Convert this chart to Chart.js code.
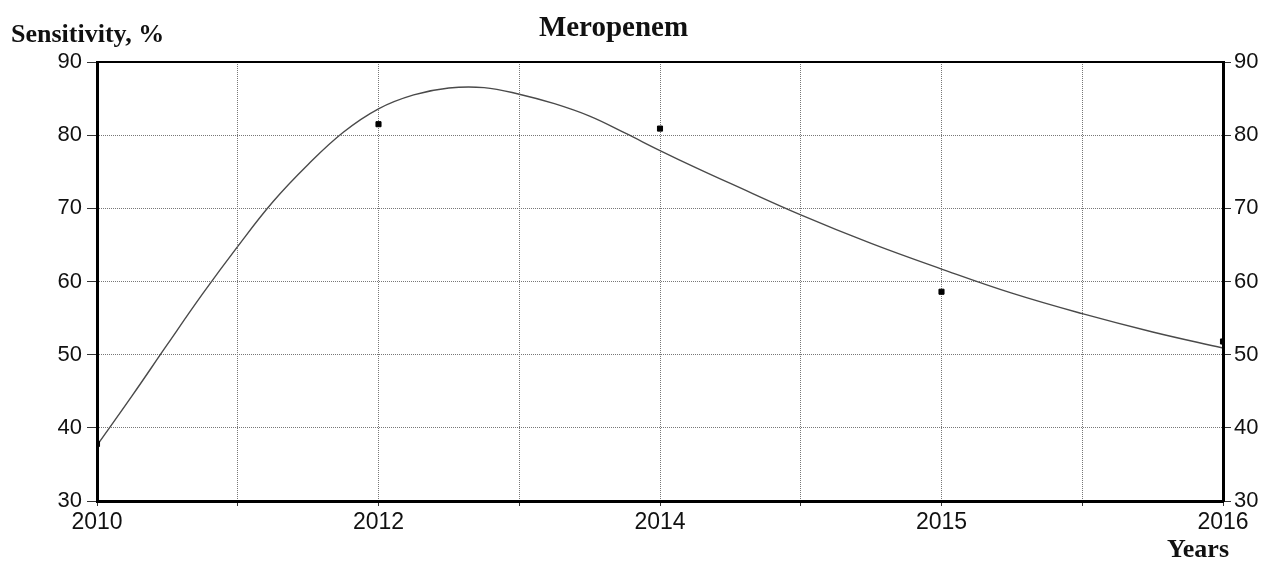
<!DOCTYPE html>
<html>
<head>
<meta charset="utf-8">
<script src="https://cdn.jsdelivr.net/npm/chart.js@4"></script>
<style>
  body { margin: 0; background: #fff; }
  #wrap { position: relative; width: 1275px; height: 563px; }
  .lbl { position: absolute; font-family: "Liberation Serif", "Times New Roman", serif; font-weight: bold; line-height: 1; color: #111; white-space: nowrap; }
  #title { font-size: 29px; top: 12px; left: 0; width: 1227px; text-align: center; }
  #ylab { font-size: 26px; top: 21px; left: 11px; }
  #xlab { font-size: 26px; top: 536px; right: 46px; }
</style>
</head>
<body>
<div id="wrap">
  <canvas id="myChart" width="1275" height="563"></canvas>
  <div class="lbl" id="title">Meropenem</div>
  <div class="lbl" id="ylab">Sensitivity, %</div>
  <div class="lbl" id="xlab">Years</div>
</div>
<script>
// years shown along the bottom, one per whole step of the x scale
const years = ['2010', '2012', '2014', '2015', '2016'];

// measured sensitivity for each year
const measured = [37.8, 81.5, 80.9, 58.6, 51.8];

// fitted trend curve
const trendX = [0, 0.125, 0.25, 0.375, 0.5, 0.625, 0.75, 0.875, 1, 1.125, 1.25, 1.375, 1.5, 1.625, 1.75, 1.875, 2, 2.125, 2.25, 2.5, 2.75, 3, 3.25, 3.5, 3.75, 4];
const trendY = [37.6, 44.4, 51.4, 58.3, 64.8, 70.9, 76.0, 80.4, 83.6, 85.5, 86.45, 86.5, 85.6, 84.3, 82.6, 80.3, 77.9, 75.6, 73.4, 69.1, 65.2, 61.7, 58.4, 55.6, 53.1, 50.9];

const yTicks = [30, 40, 50, 60, 70, 80, 90];

const tickFont = { family: 'Arial, "Liberation Sans", sans-serif', size: 22 };

const ctx = document.getElementById('myChart').getContext('2d');
new Chart(ctx, {
    data: {
        datasets: [{
            type: 'line',
            data: trendX.map((x, i) => ({ x: x, y: trendY[i] })),
            borderColor: '#4a4a4a',
            borderWidth: 1.4,
            pointRadius: 0,
            tension: 0.4,
            fill: false,
            order: 2
        },
        {
            type: 'scatter',
            data: measured.map((v, i) => ({ x: i, y: v })),
            pointStyle: 'rect',
            pointRadius: 3.6,
            pointBackgroundColor: '#000',
            pointBorderColor: '#000',
            pointBorderWidth: 1,
            order: 1
        }]
    },
    options: {
        responsive: false,
        animation: false,
        layout: { padding: { top: 62, left: 0, right: 0, bottom: 0 } },
        plugins: {
            legend: { display: false },
            tooltip: { enabled: false }
        },
        scales: {
            x: {
                type: 'linear',
                position: 'bottom',
                min: 0,
                max: years.length - 1,
                afterFit: (scale) => { scale.height = 62; },
                ticks: {
                    stepSize: 0.5,
                    autoSkip: false,
                    maxRotation: 0,
                    padding: 3,
                    color: '#111',
                    font: { family: tickFont.family, size: 23 },
                    callback: (v) => Number.isInteger(v) ? years[v] : ''
                },
                grid: {
                    color: '#777',
                    lineWidth: 1,
                    tickLength: 5,
                    tickColor: '#333',
                    tickBorderDash: []
                },
                border: { display: true, color: '#000', width: 3, dash: [1, 1], z: 1 }
            },
            xTop: {
                type: 'linear',
                position: 'top',
                min: 0,
                max: years.length - 1,
                afterFit: (scale) => { scale.height = 0; },
                ticks: { display: false },
                grid: { drawOnChartArea: false, drawTicks: false },
                border: { display: true, color: '#000', width: 2, z: 1 }
            },
            y: {
                position: 'left',
                min: yTicks[0],
                max: yTicks[yTicks.length - 1],
                afterFit: (scale) => { scale.width = 97; },
                ticks: {
                    stepSize: 10,
                    padding: 5,
                    color: '#111',
                    font: tickFont
                },
                grid: {
                    color: '#777',
                    lineWidth: 1,
                    tickLength: 10,
                    tickColor: '#333',
                    tickBorderDash: []
                },
                border: { display: true, color: '#000', width: 3, dash: [1, 1], z: 0 }
            },
            yRight: {
                position: 'right',
                min: yTicks[0],
                max: yTicks[yTicks.length - 1],
                afterFit: (scale) => { scale.width = 52; },
                ticks: {
                    stepSize: 10,
                    padding: 3,
                    color: '#111',
                    font: tickFont
                },
                grid: {
                    drawOnChartArea: false,
                    tickLength: 8,
                    tickColor: '#333'
                },
                border: { display: true, color: '#000', width: 3, z: 1 }
            }
        }
    }
});
</script>
</body>
</html>
